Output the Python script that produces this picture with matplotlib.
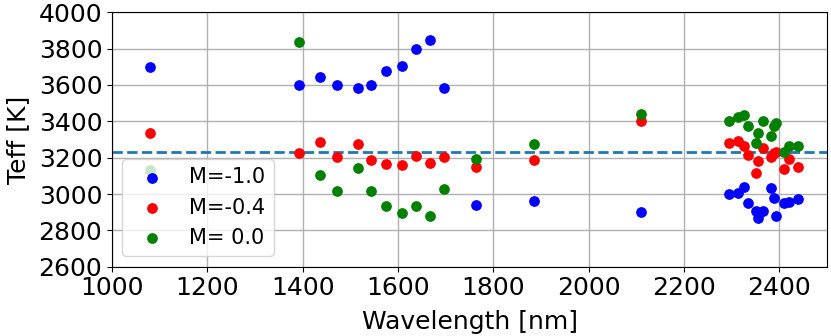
import matplotlib
matplotlib.use('Agg')
import matplotlib.pyplot as plt

# wavelengths of the features [nm]
wl = [1080, 1393, 1436, 1471, 1517, 1543, 1574, 1608, 1637, 1667, 1697, 1763, 1886, 2110,
      2295, 2314, 2325, 2335, 2352, 2356, 2366, 2383, 2388, 2394, 2410, 2421, 2439]

# Teff for each metallicity
teff_m10 = [3701, 3600, 3642, 3600, 3582, 3602, 3677, 3703, 3798, 3846, 3582, 2939, 2963, 2901,
            2998, 3004, 3040, 2949, 2906, 2866, 2906, 3031, 2976, 2881, 2949, 2958, 2971]
teff_m04 = [3337, 3227, 3288, 3202, 3277, 3187, 3163, 3158, 3209, 3169, 3204, 3149, 3185, 3402,
            3279, 3293, 3266, 3215, 3114, 3183, 3252, 3205, 3224, 3230, 3138, 3191, 3147]
teff_m00 = [3130, 3838, 3105, 3017, 3145, 3017, 2936, 2894, 2936, 2879, 3028, 3191, 3274, 3439,
            3402, 3425, 3436, 3374, 3279, 3334, 3400, 3319, 3374, 3389, 3233, 3266, 3266]

teff_ref = 3230

plt.rcParams['font.size'] = 18
fig = plt.figure(figsize=(8.31, 3.36), dpi=100)
ax = fig.add_axes([0.1348, 0.2063, 0.8604, 0.7571])

ax.scatter(wl, teff_m10, s=45, color='blue', label='M=-1.0', zorder=3)
ax.scatter(wl, teff_m04, s=45, color='red', label='M=-0.4', zorder=3)
ax.scatter(wl, teff_m00, s=45, color='green', label='M= 0.0', zorder=3)
ax.axhline(teff_ref, color='tab:blue', linestyle='--', linewidth=2, zorder=2)

ax.set_xlim(1000, 2500)
ax.set_ylim(2600, 4000)
ax.set_yticks(range(2600, 4001, 200))
ax.set_xlabel('Wavelength [nm]', labelpad=7)
ax.set_ylabel('Teff [K]', labelpad=6)
ax.grid(True, linewidth=1)
ax.set_axisbelow(True)
ax.legend(loc='lower left', fontsize=15)

plt.savefig('out.png', dpi=100)
